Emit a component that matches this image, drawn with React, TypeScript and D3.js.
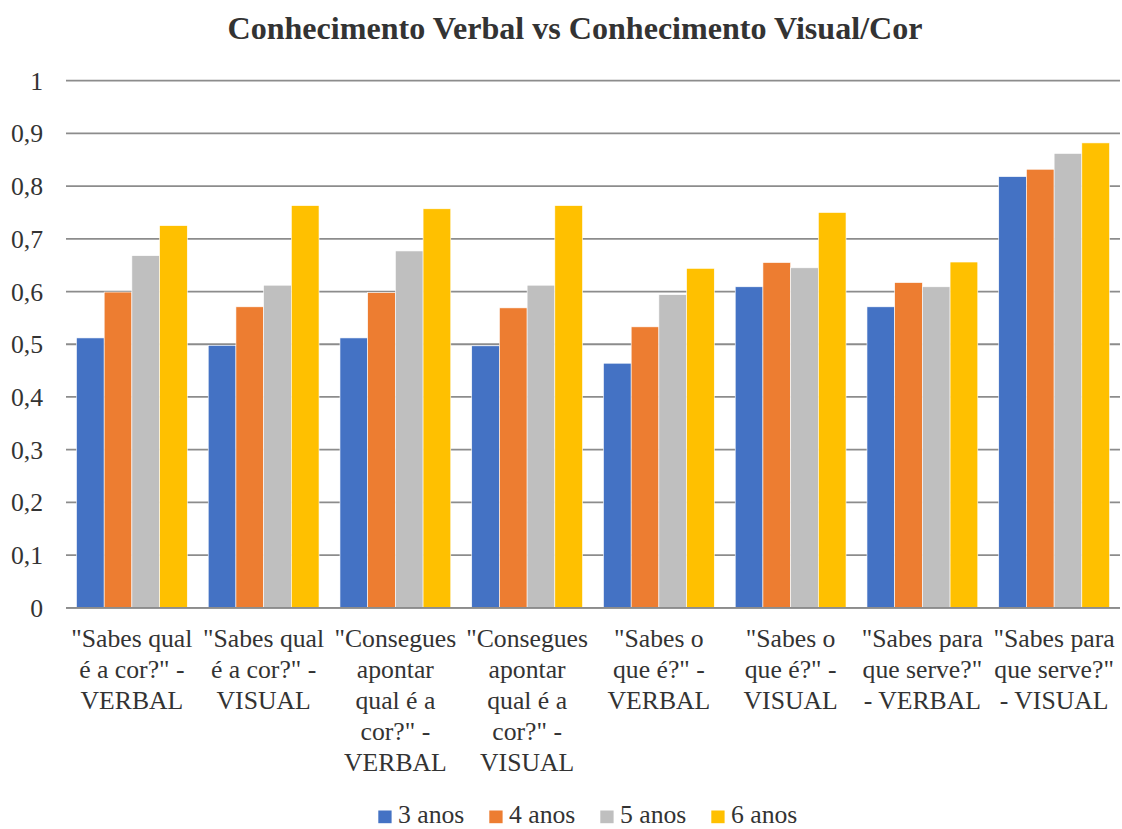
import React from "react";
import * as d3 from "d3";

const categories: string[] = [
  '"Sabes qual\né a cor?" -\nVERBAL',
  '"Sabes qual\né a cor?" -\nVISUAL',
  '"Consegues\napontar\nqual é a\ncor?" -\nVERBAL',
  '"Consegues\napontar\nqual é a\ncor?" -\nVISUAL',
  '"Sabes o\nque é?" -\nVERBAL',
  '"Sabes o\nque é?" -\nVISUAL',
  '"Sabes para\nque serve?"\n- VERBAL',
  '"Sabes para\nque serve?"\n- VISUAL',
];

const seriesNames: string[] = ["3 anos", "4 anos", "5 anos", "6 anos"];
const seriesColors: string[] = ["#4472C4", "#ED7D31", "#BFBFBF", "#FFC000"];

const anos3: number[] = [0.512, 0.498, 0.512, 0.497, 0.464, 0.609, 0.571, 0.818];
const anos4: number[] = [0.599, 0.571, 0.598, 0.569, 0.533, 0.655, 0.617, 0.832];
const anos5: number[] = [0.668, 0.612, 0.677, 0.612, 0.594, 0.645, 0.609, 0.862];
const anos6: number[] = [0.725, 0.763, 0.757, 0.763, 0.644, 0.750, 0.656, 0.882];

const yTicks: number[] = [0, 0.1, 0.2, 0.3, 0.4, 0.5, 0.6, 0.7, 0.8, 0.9, 1];

const title = "Conhecimento Verbal vs Conhecimento Visual/Cor";

const W = 1122;
const H = 829;
const plotLeft = 66;
const plotRight = 1120;
const plotTop = 80.7;
const plotBottom = 607.8;
const FONT = '"Liberation Serif"';
const TEXT = "#333333";
const txtStyle: React.CSSProperties = { fontFamily: FONT };

export default function App() {
  const series = [anos3, anos4, anos5, anos6];
  const x0 = d3
    .scaleBand<number>()
    .domain(d3.range(categories.length))
    .range([plotLeft, plotRight])
    .paddingInner(0.159)
    .paddingOuter(0.0795);
  const x1 = d3
    .scaleBand<number>()
    .domain(d3.range(seriesNames.length))
    .range([0, x0.bandwidth()]);
  const y = d3.scaleLinear().domain([0, 1]).range([plotBottom, plotTop]);
  const fmt = (v: number) => (v === 0 ? "0" : v === 1 ? "1" : d3.format(".1f")(v).replace(".", ","));

  const legendX0 = 378.3;
  const legendStep = 111;

  return (
    <svg
      width={W}
      height={H}
      style={{ position: "absolute", left: 0, top: 0, background: "#fff" }}
    >
      <rect x={0} y={0} width={W} height={H} fill="#fff" />
      <text
        x={575}
        y={39.3}
        textAnchor="middle"
        fontSize={32.1}
        fontWeight="bold"
        fill={TEXT}
        style={txtStyle}
      >
        {title}
      </text>
      {yTicks.map((t) => (
        <g key={t}>
          <line
            x1={plotLeft}
            x2={plotRight}
            y1={y(t)}
            y2={y(t)}
            stroke="#8C8C8C"
            strokeWidth={1.8}
          />
          <text
            x={43}
            y={y(t)}
            dy="0.35em"
            textAnchor="end"
            fontSize={25.7}
            fill={TEXT}
            style={txtStyle}
          >
            {fmt(t)}
          </text>
        </g>
      ))}
      {categories.map((c, i) => (
        <g key={i}>
          {series.map((s, j) => (
            <rect
              key={j}
              x={(x0(i) as number) + (x1(j) as number)}
              y={y(s[i])}
              width={x1.bandwidth()}
              height={y(0) - y(s[i])}
              fill={seriesColors[j]}
              stroke="#fff"
              strokeWidth={0.6}
            />
          ))}
        </g>
      ))}
      <line x1={plotLeft} x2={plotRight} y1={y(0)} y2={y(0)} stroke="#8C8C8C" strokeWidth={1.8} />
      {categories.map((c, i) => (
        <text
          key={"l" + i}
          x={(x0(i) as number) + x0.bandwidth() / 2}
          y={647}
          textAnchor="middle"
          fontSize={25.7}
          fill={TEXT}
          style={txtStyle}
        >
          {c.split("\n").map((line, k) => (
            <tspan key={k} x={(x0(i) as number) + x0.bandwidth() / 2} dy={k === 0 ? 0 : 30.9}>
              {line}
            </tspan>
          ))}
        </text>
      ))}
      {seriesNames.map((n, j) => (
        <g key={n} transform={`translate(${legendX0 + j * legendStep},0)`}>
          <rect x={0} y={810.5} width={13.3} height={12.7} fill={seriesColors[j]} />
          <text x={19.7} y={823.3} fontSize={25.7} fill={TEXT} style={txtStyle}>
            {n}
          </text>
        </g>
      ))}
    </svg>
  );
}
